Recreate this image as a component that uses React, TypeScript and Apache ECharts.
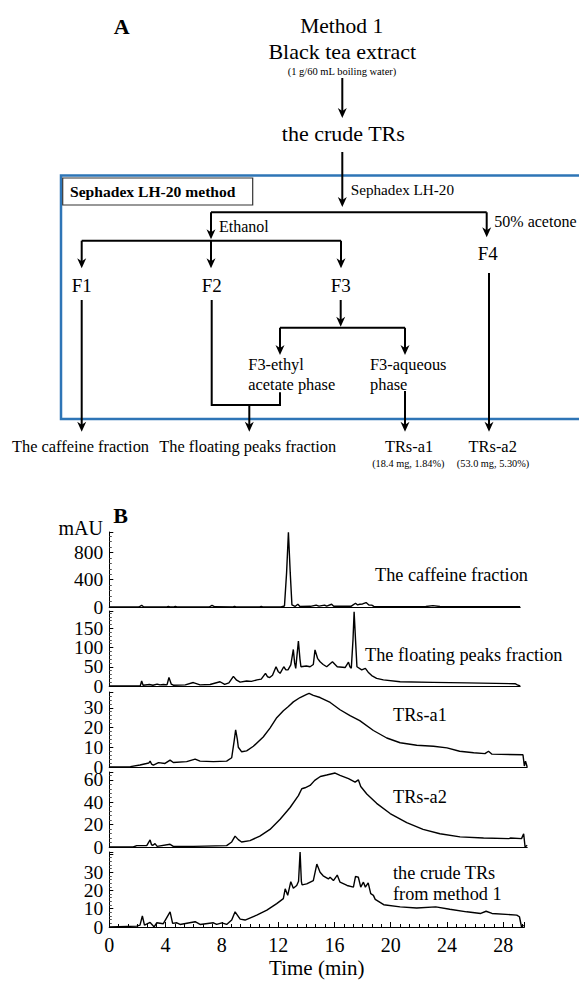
import React, { useEffect, useRef } from 'react';
import * as echarts from 'echarts';

const FONT = '"Liberation Serif", "Times New Roman", serif';

// ---------- data ----------
const panelNames = [
  'The caffeine fraction',
  'The floating peaks fraction',
  'TRs-a1',
  'TRs-a2',
  'the crude TRs\nfrom method 1',
];
const yMax = [1100, 195, 38, 67, 41];
const yInterval = [400, 50, 10, 20, 10];
const yTickLabels = [
  [400, 800],
  [50, 100, 150],
  [10, 20, 30],
  [20, 40, 60],
  [10, 20, 30],
];
const yZeroLabel = 0;
const xMax = [29.2, 29.2, 29.7, 29.7, 29.5];
const xInterval = 4;
const xTickLabels = [0, 4, 8, 12, 16, 20, 24, 28];
const xAxisTitle = 'Time (min)';
const yUnit = 'mAU';

const caffeine = [
  [0, 0], [2.1, 0], [2.3, 25], [2.45, 0], [4.1, 0], [4.2, 8], [4.3, 0], [4.6, 0], [4.7, 8], [4.8, 0],
  [7.1, 0], [7.3, 25], [7.5, 3], [8.8, 0], [8.9, 10], [9.0, 0], [10.7, 0], [10.8, 8], [10.9, 0],
  [12.2, 2], [12.45, 15], [12.6, 500], [12.73, 1095], [12.86, 500], [12.98, 30], [13.2, 8], [13.4, 40],
  [13.55, 8], [14.3, 10], [14.7, 28], [14.9, 12], [15.3, 28], [15.45, 12], [15.8, 40], [15.95, 10],
  [17.2, 12], [17.5, 55], [17.65, 30], [17.8, 40], [18.0, 45], [18.25, 65], [18.45, 30], [18.65, 28],
  [18.8, 8], [20, 5], [22.5, 8], [23.0, 20], [23.5, 8], [25, 4], [29.2, 3],
];
const floating = [
  [0, 0], [2.2, 0], [2.3, 13], [2.4, 2], [2.85, 4], [3.1, 2], [3.4, 5], [3.6, 3], [3.85, 4], [4.1, 3],
  [4.24, 22], [4.4, 5], [4.55, 2], [5.4, 3], [5.97, 9], [6.45, 3], [7.16, 4], [7.87, 11], [8.2, 4],
  [8.5, 8], [8.82, 25], [9.05, 15], [9.3, 10], [9.76, 13], [10.1, 12], [10.5, 16], [10.8, 18], [11.1, 33],
  [11.25, 24], [11.4, 22], [11.6, 28], [11.85, 50], [12.0, 38], [12.14, 33], [12.4, 50], [12.55, 42],
  [12.7, 42], [12.9, 55], [13.08, 95], [13.17, 60], [13.25, 46], [13.44, 117], [13.55, 70], [13.62, 50],
  [14.0, 52], [14.27, 50], [14.5, 56], [14.62, 94], [14.8, 72], [14.98, 63], [15.2, 56], [15.45, 50],
  [15.86, 63], [16.2, 50], [16.76, 48], [17.0, 62], [17.1, 50], [17.2, 46], [17.32, 120], [17.4, 193],
  [17.5, 120], [17.6, 50], [17.94, 42], [18.2, 46], [18.4, 36], [18.65, 27], [19.0, 20], [19.48, 16],
  [20.67, 11], [23.0, 9.5], [25.4, 8], [28.84, 6], [29.0, 3], [29.2, 0],
];
const trsA1 = [
  [0, 0], [1.5, 0.2], [2.18, 1], [2.8, 2], [2.9, 3], [3.0, 1.5], [3.13, 1], [3.5, 2.2], [3.96, 1.8],
  [4.32, 3.5], [4.55, 2.3], [5.5, 2.7], [6.1, 4], [6.45, 3], [7.4, 2.7], [8.34, 3], [8.7, 4.7],
  [8.87, 13], [8.98, 18.8], [9.1, 14], [9.17, 10], [9.41, 7.7], [9.76, 8.2], [10.24, 10.5], [10.94, 15.2],
  [11.42, 19.7], [11.9, 25], [12.37, 28.5], [12.73, 30.7], [13.08, 33], [13.56, 35.2], [14.03, 36.8],
  [14.2, 37.3], [14.5, 36.3], [14.98, 35.2], [15.7, 32.7], [16.4, 29], [17.11, 26], [17.8, 23.5],
  [18.77, 18.5], [19.72, 14.7], [20.67, 12.3], [21.85, 11], [23.04, 10.5], [24.0, 9.7], [24.9, 8],
  [25.9, 7.2], [26.7, 6.8], [26.95, 8], [27.2, 6.5], [29.4, 6.2], [29.5, 0.5], [29.58, 3], [29.7, 0],
];
const trsA2 = [
  [0, 0], [1.7, 0], [1.95, 1.2], [2.66, 1.2], [2.9, 6.3], [3.0, 2], [3.1, 1.5], [3.25, 3], [3.4, 0.6],
  [4.32, 2.4], [4.55, 0.6], [6, 0.6], [8.34, 1.2], [8.7, 4.5], [8.94, 9.7], [9.17, 6.6], [9.4, 4.5],
  [10.0, 5.7], [10.7, 9.7], [11.42, 15.7], [12.14, 24.8], [12.85, 35.3], [13.44, 45.9], [13.68, 52],
  [13.91, 52.9], [14.27, 55], [14.6, 59.5], [15.0, 63], [15.45, 64.3], [16.05, 66.1], [16.4, 64],
  [17.0, 61], [17.47, 58], [17.7, 60], [17.87, 54], [18.3, 47.4], [19.0, 39], [19.96, 29.9],
  [21.14, 21.7], [22.3, 15.7], [23.5, 11.8], [24.93, 9], [26.6, 8.1], [28.4, 7.5], [28.5, 8],
  [29.3, 7.5], [29.45, 11.8], [29.55, 0], [29.7, 1.5],
];
const crudeTRs = [
  [0, 0], [1.95, 0.5], [2.18, 1], [2.35, 6], [2.5, 1], [2.9, 2.5], [3.08, 1], [3.18, 0], [3.37, 2.3],
  [3.84, 1.8], [4.32, 8.3], [4.5, 2], [4.8, 2.3], [5.03, 1.4], [6.1, 2.9], [6.45, 1.4], [7.4, 2.3],
  [7.63, 1.4], [8.0, 2.3], [8.34, 1.4], [8.7, 3.8], [8.94, 8.3], [9.3, 4.3], [9.65, 3.8], [10.48, 6.5],
  [11.2, 9.2], [11.9, 12.8], [12.37, 15.5], [12.5, 20.9], [12.68, 17.3], [12.9, 24.8], [13.08, 21.2],
  [13.32, 22.7], [13.45, 25], [13.56, 41], [13.65, 25], [13.7, 23], [14.03, 23.6], [14.5, 25.4],
  [14.75, 34.4], [14.98, 29.9], [15.2, 28], [15.57, 26.3], [15.69, 27.2], [15.93, 25.4], [16.2, 28.4],
  [16.4, 24.5], [16.9, 22.7], [17.35, 21.8], [17.5, 27.7], [17.7, 27.2], [17.87, 21.8], [18.06, 24.5],
  [18.2, 21.8], [18.4, 24.1], [18.58, 18.2], [18.77, 17.3], [18.9, 15.1], [19.5, 12.2], [20.67, 11],
  [21.85, 10.4], [23.2, 11], [24.2, 9.7], [25.4, 8.3], [26.4, 7.4], [26.78, 8.6], [27.2, 7.4],
  [28.96, 6.5], [29.15, 5.6], [29.3, 0], [29.45, 1],
];
const seriesData = [caffeine, floating, trsA1, trsA2, crudeTRs];

// flowchart texts
const fcTitle = ['Method 1', 'Black tea extract'];
const fcNote = '(1 g/60 mL boiling water)';
const fcCrude = 'the crude TRs';
const fcBox = 'Sephadex LH-20 method';
const fcSteps = ['Sephadex LH-20', 'Ethanol', '50% acetone'];
const fcFractions = ['F1', 'F2', 'F3', 'F4'];
const fcPhases = ['F3-ethyl\nacetate phase', 'F3-aqueous\nphase'];
const fcOutputs = ['The caffeine fraction', 'The floating peaks fraction', 'TRs-a1', 'TRs-a2'];
const fcYields = ['(18.4 mg, 1.84%)', '(53.0 mg, 5.30%)'];

// ---------- layout ----------
const W = 579;
const H = 981;
const plotLeft = 109.3;
const pxPerMin = 14.07;
const gridTop = [532, 611, 692, 772, 852];
const gridBase = [607, 686, 767, 847, 927];
const labelPos = [[375, 575], [365, 655], [393, 715], [393, 797], [393, 883.5]];
const Y_FONT = 19.5;

function txt(text: string, x: number, y: number, size: number, align = 'center', bold = false, lineHeight?: number) {
  return {
    type: 'text',
    x,
    y,
    style: {
      text,
      fill: '#000',
      font: `${bold ? 'bold ' : ''}${size}px ${FONT}`,
      align,
      verticalAlign: 'middle',
      textAlign: align,
      textVerticalAlign: 'middle',
      lineHeight: lineHeight || Math.round(size * 1.2),
    },
  };
}
function seg(x1: number, y1: number, x2: number, y2: number, w = 2) {
  return { type: 'line', shape: { x1, y1, x2, y2 }, style: { stroke: '#000', lineWidth: w } };
}
function arrow(x: number, y1: number, y2: number) {
  return [
    seg(x, y1, x, y2 - 5),
    {
      type: 'polygon',
      shape: { points: [[x - 4.5, y2 - 10], [x, y2], [x + 4.5, y2 - 10], [x, y2 - 7]] },
      style: { fill: '#000' },
    },
  ];
}

function inList(v: number, list: number[]) {
  return list.some((t) => Math.abs(t - v) < 1e-6);
}

export default function App() {
  const ref = useRef<HTMLDivElement>(null);
  useEffect(() => {
    if (!ref.current) return;
    const chart = echarts.init(ref.current, undefined, { renderer: 'svg' });

    const grids: any[] = [];
    const xAxes: any[] = [];
    const yAxes: any[] = [];
    const series: any[] = [];
    for (let i = 0; i < 5; i++) {
      const last = i === 4;
      const right = W - (plotLeft + xMax[i] * pxPerMin);
      grids.push({ left: plotLeft, right, top: gridTop[i], bottom: H - gridBase[i], containLabel: false });
      xAxes.push({
        gridIndex: i,
        type: 'value',
        min: 0,
        max: xMax[i],
        interval: xInterval,
        axisLine: { show: true, onZero: false, lineStyle: { color: '#000', width: 1.2 } },
        axisTick: { show: last, inside: true, length: 5, lineStyle: { color: '#000' } },
        minorTick: { show: last, splitNumber: 6, length: 3, lineStyle: { color: '#000' } },
        splitLine: { show: false },
        axisLabel: {
          show: last,
          showMinLabel: true,
          color: '#000',
          fontFamily: FONT,
          fontSize: 20,
          margin: 8,
          formatter: (v: number) => (inList(v, xTickLabels) ? String(v) : ''),
        },
        name: last ? xAxisTitle : '',
        nameLocation: 'middle',
        nameGap: 30,
        nameTextStyle: { color: '#000', fontFamily: FONT, fontSize: 21 },
      });
      // main y axis: line, ticks and the non-zero labels
      yAxes.push({
        gridIndex: i,
        type: 'value',
        min: 0,
        max: yMax[i],
        interval: yInterval[i],
        axisLine: { show: true, lineStyle: { color: '#000', width: 1 } },
        axisTick: { show: true, inside: true, length: 4, lineStyle: { color: '#000' } },
        minorTick: { show: true, splitNumber: 5, length: 2.5, lineStyle: { color: '#555' } },
        splitLine: { show: false },
        axisLabel: {
          showMinLabel: false,
          showMaxLabel: false,
          color: '#000',
          fontFamily: FONT,
          fontSize: Y_FONT,
          lineHeight: 14,
          margin: 6,
          formatter: (v: number) => (inList(v, yTickLabels[i]) ? String(v) : ''),
        },
      });
      // companion y axis in the same grid that only carries the "0" label
      yAxes.push({
        gridIndex: i,
        type: 'value',
        position: 'left',
        min: 0,
        max: yMax[i],
        interval: yMax[i],
        axisLine: { show: false },
        axisTick: { show: false },
        splitLine: { show: false },
        axisLabel: {
          showMinLabel: true,
          showMaxLabel: false,
          color: '#000',
          fontFamily: FONT,
          fontSize: Y_FONT,
          lineHeight: 14,
          margin: 6,
          formatter: (v: number) => (Math.abs(v - yZeroLabel) < 1e-9 ? String(yZeroLabel) : ''),
        },
      });
      series.push({
        type: 'line',
        xAxisIndex: i,
        yAxisIndex: 2 * i,
        data: seriesData[i],
        showSymbol: false,
        symbol: 'none',
        clip: false,
        lineStyle: { color: '#000', width: 1.4 },
      });
    }

    const g: any[] = [];
    // ---- Panel A flowchart ----
    g.push({
      type: 'rect',
      shape: { x: 61, y: 175.5, width: 560, height: 243.5 },
      style: { stroke: '#2E75B6', lineWidth: 2.5, fill: 'none' },
    });
    g.push(txt('A', 121.7, 26, 22, 'center', true));
    g.push(txt(fcTitle[0], 341.7, 26, 21.5));
    g.push(txt(fcTitle[1], 342.3, 51.7, 22));
    g.push(txt(fcNote, 342, 71.7, 10.5));
    g.push(...arrow(342.3, 78, 118));
    g.push(txt(fcCrude, 343.3, 133.3, 22));
    g.push(...arrow(342.3, 152, 207));
    g.push({
      type: 'rect',
      shape: { x: 62.7, y: 178, width: 190, height: 27 },
      style: { stroke: '#333', lineWidth: 1.2, fill: '#fff' },
    });
    g.push(txt(fcBox, 70, 191.7, 15.6, 'left', true));
    g.push(txt(fcSteps[0], 350.7, 189.3, 15.2, 'left'));
    g.push(seg(211, 212.3, 486.7, 212.3));
    g.push(...arrow(211, 212.3, 239.3));
    g.push(...arrow(486.7, 212.3, 237.3));
    g.push(txt(fcSteps[1], 219, 226.7, 16, 'left'));
    g.push(txt(fcSteps[2], 494.3, 221, 16, 'left'));
    g.push(seg(81.7, 240.7, 341, 240.7));
    g.push(...arrow(81.7, 240.7, 268.3));
    g.push(...arrow(211, 240.7, 268.3));
    g.push(...arrow(341, 240.7, 268.3));
    g.push(txt(fcFractions[0], 81.7, 285.7, 19));
    g.push(txt(fcFractions[1], 211.7, 285.7, 19));
    g.push(txt(fcFractions[2], 340.7, 285.7, 19));
    g.push(txt(fcFractions[3], 487.7, 253.3, 19));
    g.push(...arrow(81.7, 300, 431.7));
    g.push({
      type: 'polyline',
      shape: { points: [[211.7, 300], [211.7, 405], [280, 405], [280, 392.3]] },
      style: { stroke: '#000', lineWidth: 2, fill: null },
    });
    g.push(...arrow(249.3, 405, 431.7));
    g.push(...arrow(340.7, 300, 326.7));
    g.push(seg(280, 327.7, 405, 327.7));
    g.push(...arrow(280, 327.7, 355));
    g.push(...arrow(405, 327.7, 355));
    g.push(txt(fcPhases[0], 248.3, 374.6, 16.4, 'left', false, 19.3));
    g.push(txt(fcPhases[1], 370, 374.6, 16.4, 'left', false, 19.3));
    g.push(...arrow(405, 391, 431.7));
    g.push(...arrow(489, 273, 431.7));
    g.push(txt(fcOutputs[0], 80.5, 446.7, 16.4));
    g.push(txt(fcOutputs[1], 247.7, 446.7, 16.4));
    g.push(txt(fcOutputs[2], 409, 446.7, 16.4));
    g.push(txt(fcOutputs[3], 492.7, 446.7, 16.4));
    g.push(txt(fcYields[0], 408.3, 463.3, 10.3));
    g.push(txt(fcYields[1], 493, 463.3, 10.3));

    // ---- Panel B annotations ----
    g.push(txt('B', 120.5, 515, 22, 'center', true));
    g.push(txt(yUnit, 103, 528, 20, 'right'));
    for (let i = 0; i < 5; i++) {
      g.push(txt(panelNames[i], labelPos[i][0], labelPos[i][1], 18.3, 'left', false, 21));
    }

    chart.setOption({
      animation: false,
      backgroundColor: '#fff',
      grid: grids,
      xAxis: xAxes,
      yAxis: yAxes,
      series,
      graphic: { elements: g },
    });
    return () => chart.dispose();
  }, []);

  return (
    <div
      ref={ref}
      style={{ position: 'absolute', left: 0, top: 0, width: W, height: H, background: '#fff' }}
    />
  );
}
